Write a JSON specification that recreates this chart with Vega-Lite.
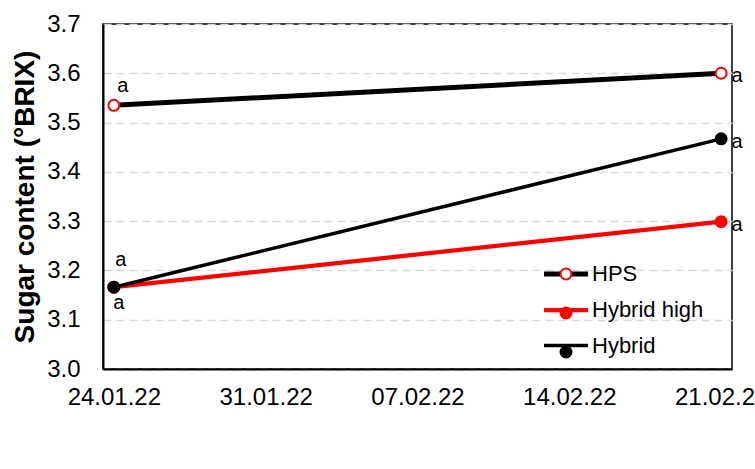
{
  "$schema": "https://vega.github.io/schema/vega-lite/v6.json",
  "width": 629,
  "height": 345,
  "autosize": {"type": "none"},
  "padding": {"left": 103, "top": 24, "right": 23, "bottom": 100},
  "background": "white",
  "config": {
    "font": "Liberation Sans",
    "view": {"stroke": "black", "strokeWidth": 1.5},
    "axis": {
      "labelFont": "Liberation Sans",
      "labelColor": "black",
      "labelFontSize": 24,
      "ticks": false,
      "tickSize": 0,
      "domainColor": "black",
      "domainWidth": 2
    },
    "legend": {"labelFont": "Liberation Sans", "labelColor": "black"}
  },
  "data": {
    "values": [
      {"date": "2022-01-24", "series": "HPS", "value": 3.535, "sig": "a"},
      {"date": "2022-02-21", "series": "HPS", "value": 3.6, "sig": "a"},
      {"date": "2022-01-24", "series": "Hybrid high", "value": 3.166, "sig": "a"},
      {"date": "2022-02-21", "series": "Hybrid high", "value": 3.299, "sig": "a"},
      {"date": "2022-01-24", "series": "Hybrid", "value": 3.166, "sig": "a"},
      {"date": "2022-02-21", "series": "Hybrid", "value": 3.467, "sig": "a"}
    ]
  },
  "encoding": {
    "x": {
      "field": "date",
      "type": "temporal",
      "scale": {
        "type": "utc",
        "domain": [
          {"year": 2022, "month": 1, "date": 23, "hours": 12, "utc": true},
          {"year": 2022, "month": 2, "date": 21, "hours": 12, "utc": true}
        ]
      },
      "axis": {
        "title": null,
        "format": "%d.%m.%y",
        "labelPadding": 16,
        "grid": false,
        "labelFlush": false,
        "labelOverlap": false,
        "values": [
          {"year": 2022, "month": 1, "date": 24, "utc": true},
          {"year": 2022, "month": 1, "date": 31, "utc": true},
          {"year": 2022, "month": 2, "date": 7, "utc": true},
          {"year": 2022, "month": 2, "date": 14, "utc": true},
          {"year": 2022, "month": 2, "date": 21, "utc": true}
        ]
      }
    },
    "y": {
      "field": "value",
      "type": "quantitative",
      "scale": {"domain": [3.0, 3.7], "nice": false, "zero": false},
      "axis": {
        "title": "Sugar content (°BRIX)",
        "titleFont": "Liberation Sans",
        "titleFontSize": 28,
        "titleFontWeight": "bold",
        "titleColor": "black",
        "titlePadding": 7,
        "values": [3.0, 3.1, 3.2, 3.3, 3.4, 3.5, 3.6, 3.7],
        "format": ".1f",
        "labelPadding": 23,
        "grid": true,
        "gridColor": "#d9d9d9",
        "gridWidth": 1.5,
        "gridDash": [8, 5]
      }
    }
  },
  "layer": [
    {
      "mark": {"type": "line"},
      "encoding": {
        "color": {
          "field": "series",
          "type": "nominal",
          "scale": {"domain": ["HPS", "Hybrid high", "Hybrid"], "range": ["#000000", "#ff0000", "#000000"]},
          "legend": {
            "orient": "none",
            "legendX": 438.5,
            "legendY": 225.5,
            "title": null,
            "padding": 0,
            "symbolType": "stroke",
            "symbolSize": 1936,
            "symbolStrokeWidth": 4.5,
            "labelFontSize": 22,
            "labelOffset": 1.5,
            "rowPadding": -10
          }
        },
        "strokeWidth": {
          "field": "series",
          "type": "nominal",
          "scale": {"domain": ["HPS", "Hybrid high", "Hybrid"], "range": [5, 3.5, 5]},
          "legend": null
        }
      }
    },
    {
      "mark": {"type": "point", "shape": "circle", "size": 120, "strokeWidth": 2, "opacity": 1},
      "encoding": {
        "fill": {
          "field": "series",
          "type": "nominal",
          "sort": ["HPS", "Hybrid high", "Hybrid"],
          "scale": {"range": ["#ffffff", "#ff0000", "#000000"]},
          "legend": {
            "orient": "none",
            "legendX": 452,
            "legendY": 239,
            "title": null,
            "padding": 0,
            "symbolType": "circle",
            "symbolSize": 120,
            "symbolStrokeWidth": 2,
            "symbolOpacity": 1,
            "labelFontSize": 22,
            "labelOpacity": 0,
            "rowPadding": 17,
            "encode": {
              "symbols": {
                "update": {
                  "fill": {"scale": "fill", "field": "value"},
                  "stroke": {"scale": "stroke", "field": "value"},
                  "strokeWidth": {"value": 2},
                  "opacity": {"value": 1}
                }
              }
            }
          }
        },
        "stroke": {
          "field": "series",
          "type": "nominal",
          "sort": ["HPS", "Hybrid high", "Hybrid"],
          "scale": {"range": ["#ff0000", "#ff0000", "#000000"]},
          "legend": null
        }
      }
    },
    {
      "transform": [{"filter": "time(datum.date) > utc(2022,1,1)"}],
      "mark": {"type": "text", "fontSize": 20, "color": "black", "align": "center", "baseline": "middle", "dx": 16, "dy": 3},
      "encoding": {"text": {"field": "sig"}}
    },
    {
      "transform": [{"filter": "time(datum.date) < utc(2022,1,1) && datum.series === 'HPS'"}],
      "mark": {"type": "text", "fontSize": 20, "color": "black", "align": "center", "baseline": "middle", "dx": 9, "dy": -19},
      "encoding": {"text": {"field": "sig"}}
    },
    {
      "transform": [{"filter": "time(datum.date) < utc(2022,1,1) && datum.series === 'Hybrid'"}],
      "mark": {"type": "text", "fontSize": 20, "color": "black", "align": "center", "baseline": "middle", "dx": 7, "dy": -27},
      "encoding": {"text": {"field": "sig"}}
    },
    {
      "transform": [{"filter": "time(datum.date) < utc(2022,1,1) && datum.series === 'Hybrid high'"}],
      "mark": {"type": "text", "fontSize": 20, "color": "black", "align": "center", "baseline": "middle", "dx": 5, "dy": 16},
      "encoding": {"text": {"field": "sig"}}
    }
  ]
}
